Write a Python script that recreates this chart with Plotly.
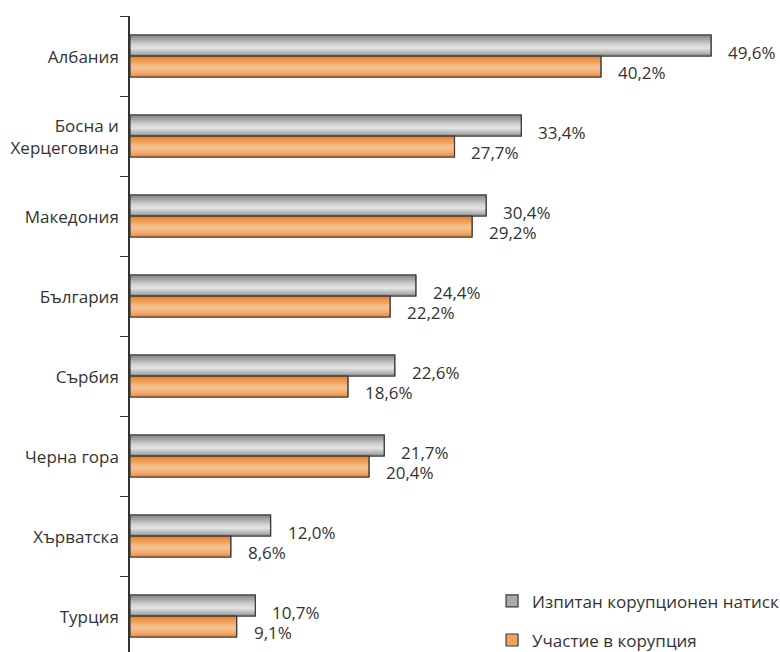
import plotly.graph_objects as go

# Data
countries = ["Албания", "Босна и<br>Херцеговина", "Македония", "България",
             "Сърбия", "Черна гора", "Хърватска", "Турция"]
pressure = [49.6, 33.4, 30.4, 24.4, 22.6, 21.7, 12.0, 10.7]      # Изпитан корупционен натиск
involvement = [40.2, 27.7, 29.2, 22.2, 18.6, 20.4, 8.6, 9.1]     # Участие в корупция
series_names = ["Изпитан корупционен натиск", "Участие в корупция"]

FONT = "Open Sans"
FS = 17
TEXT_COLOR = "#333333"
BAR_W = 0.2625          # thickness of one bar, in category units
N_BANDS = 12            # number of strips used to shade each bar

# vertical shading profiles (top -> bottom) for the two series
gray_stops = [(0.0, (118, 118, 118)), (0.2, (165, 165, 165)), (0.5, (214, 214, 214)),
              (0.65, (226, 226, 226)), (0.85, (188, 188, 188)), (1.0, (138, 138, 138))]
orange_stops = [(0.0, (224, 122, 34)), (0.25, (238, 158, 84)), (0.55, (247, 194, 143)),
                (0.75, (245, 181, 126)), (1.0, (232, 138, 58))]


def interp(stops, t):
    for (t0, c0), (t1, c1) in zip(stops[:-1], stops[1:]):
        if t0 <= t <= t1:
            f = (t - t0) / (t1 - t0) if t1 > t0 else 0
            return "rgb(%d,%d,%d)" % tuple(round(a + (b - a) * f) for a, b in zip(c0, c1))
    return "rgb(%d,%d,%d)" % stops[-1][1]


fig = go.Figure()

series = [
    (series_names[0], pressure, gray_stops, -BAR_W, "rgb(170,170,170)"),
    (series_names[1], involvement, orange_stops, 0.0, "rgb(240,165,95)"),
]

# base bars (also used for the legend entries)
for name, vals, stops, off, base in series:
    fig.add_trace(go.Bar(
        x=vals, y=countries, orientation="h", name=name,
        width=BAR_W, offset=off, legendgroup=name,
        marker=dict(color=base, line=dict(color="#3a3a3a", width=1.2)),
        hoverinfo="x+y",
    ))

# shaded strips
for name, vals, stops, off, base in series:
    step = BAR_W / N_BANDS
    for i in range(N_BANDS):
        t = (i + 0.5) / N_BANDS
        fig.add_trace(go.Bar(
            x=vals, y=countries, orientation="h",
            width=step * 1.08, offset=off + i * step,
            marker=dict(color=interp(stops, t), line=dict(width=0)),
            showlegend=False, hoverinfo="skip", legendgroup=name,
        ))

# outlines on top
for name, vals, stops, off, base in series:
    fig.add_trace(go.Bar(
        x=vals, y=countries, orientation="h",
        width=BAR_W, offset=off,
        marker=dict(color="rgba(0,0,0,0)", line=dict(color="#3a3a3a", width=1.2)),
        showlegend=False, hoverinfo="skip", legendgroup=name,
    ))

# value labels
for vals, yshift in ((pressure, 4), (involvement, -16)):
    for c, v in zip(countries, vals):
        fig.add_annotation(
            x=v, y=c, text=("%.1f" % v).replace(".", ",") + "%",
            xanchor="left", yanchor="middle", xshift=15, yshift=yshift,
            showarrow=False, font=dict(family=FONT, size=FS, color=TEXT_COLOR),
        )

fig.update_layout(
    width=780, height=652,
    margin=dict(l=130, r=0, t=16, b=0, autoexpand=False),
    paper_bgcolor="white", plot_bgcolor="white",
    barmode="overlay",
    font=dict(family=FONT, size=FS, color=TEXT_COLOR),
    showlegend=True,
    legend=dict(
        x=0.557, xanchor="left", y=-0.010, yanchor="bottom",
        font=dict(family=FONT, size=FS, color=TEXT_COLOR),
        tracegroupgap=14, traceorder="grouped",
        bgcolor="rgba(0,0,0,0)",
    ),
    xaxis=dict(range=[0, 55.49], visible=False, fixedrange=True),
    yaxis=dict(
        type="category", categoryorder="array", categoryarray=countries,
        range=[7.45, -0.5],
        tickson="boundaries", ticks="outside", ticklen=8, tickwidth=1.2,
        tickcolor="#333333", showline=True, linecolor="#333333", linewidth=1.5,
        showgrid=False, zeroline=False, ticklabelstandoff=6, ticklabelshift=-1,
        tickfont=dict(family=FONT, size=FS, color=TEXT_COLOR),
    ),
)

fig.write_html("out.html")
